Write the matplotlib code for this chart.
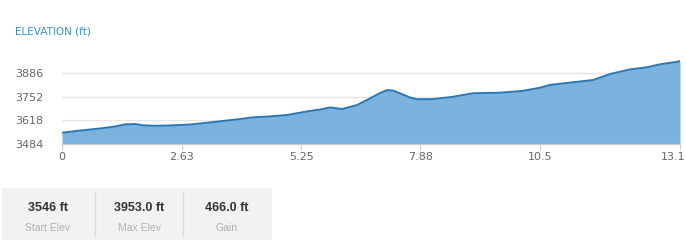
import matplotlib
matplotlib.use("Agg")
import matplotlib.pyplot as plt
from matplotlib.patches import Rectangle
from matplotlib.transforms import ScaledTranslation

# elevation profile (miles, feet)
dist = [0.00, 0.38, 0.81, 1.12, 1.34, 1.55, 1.70, 1.97, 2.29, 2.71, 3.14, 3.77,
        4.05, 4.41, 4.77, 5.19, 5.47, 5.68, 5.94, 6.25, 6.53, 6.74, 6.89, 7.02,
        7.16, 7.38, 7.53, 7.86, 8.29, 8.71, 9.28, 9.75, 10.13, 10.34, 10.83,
        11.26, 11.62, 12.04, 12.40, 12.68, 13.04, 13.10]
elev = [3548, 3560, 3572, 3583, 3595, 3597, 3590, 3587, 3589, 3594, 3606, 3625,
        3635, 3640, 3648, 3668, 3679, 3691, 3682, 3704, 3742, 3772, 3789, 3786,
        3771, 3747, 3737, 3738, 3751, 3771, 3774, 3784, 3802, 3818, 3833,
        3846, 3880, 3906, 3918, 3935, 3949, 3953]

y_ticks = [3484, 3618, 3752, 3886]
x_labels = ["0", "2.63", "5.25", "7.88", "10.5", "13.1"]
x_frac = [0, 0.194, 0.387, 0.58, 0.773, 1.0]  # label spots along the axis

stat_vals = ["3546 ft", "3953.0 ft", "466.0 ft"]
stat_names = ["Start Elev", "Max Elev", "Gain"]

W, H = 686, 240
fig = plt.figure(figsize=(W / 100, H / 100), dpi=100)
fig.patch.set_facecolor("white")

ax = fig.add_axes([62 / W, 1 - 144 / H, 618 / W, (144 - 48) / H])
ax.fill_between(dist, elev, 3484, color="#7bb3de", lw=0)
ax.plot(dist, elev, color="#2b77b3", lw=1.4, solid_capstyle="round")
ax.set_xlim(0, 13.1)
ax.set_ylim(3484, 4027)

ax.set_yticks(y_ticks)
ax.set_yticklabels([str(v) for v in y_ticks])
for v in y_ticks[1:]:
    ax.axhline(v, color="#e6e6e6", lw=1, zorder=0)
ax.set_xticks([f * 13.1 for f in x_frac])
ax.set_xticklabels(x_labels)
ax.tick_params(axis="y", length=0, pad=34, labelsize=8, labelcolor="#666666")
for lab in ax.get_yticklabels():
    lab.set_horizontalalignment("left")
ax.tick_params(axis="x", length=4, color="#cccccc", pad=2, labelsize=8,
               labelcolor="#666666")
# last label sits at the right edge, pull it in so it fits
last = ax.get_xticklabels()[-1]
last.set_horizontalalignment("right")
last.set_transform(last.get_transform() + ScaledTranslation(5 / 100, 0, fig.dpi_scale_trans))
for s in ["top", "right", "left"]:
    ax.spines[s].set_visible(False)
ax.spines["bottom"].set_color("#cccccc")
ax.set_facecolor("none")

fig.text(15 / W, 1 - 32 / H, "ELEVATION (ft)", fontsize=7.5, color="#3a8fc7",
         va="center", ha="left")

# stats strip
fig.patches.append(Rectangle((2 / W, 0), 270 / W, 52 / H, transform=fig.transFigure,
                             facecolor="#f2f2f2", edgecolor="none", zorder=0))
for xd in [95, 183]:
    fig.add_artist(plt.Line2D([xd / W, xd / W], [4 / H, 48 / H], color="#dddddd",
                              lw=1, transform=fig.transFigure))
centers = [48, 139, 227]
for cx, val, name in zip(centers, stat_vals, stat_names):
    fig.text(cx / W, 1 - 208 / H, val, fontsize=9, fontweight="bold",
             family="Liberation Sans", color="#333333", ha="center", va="center")
    fig.text(cx / W, 1 - 228 / H, name, fontsize=7.5, family="Liberation Sans",
             color="#b0b0b0", ha="center", va="center")

fig.savefig("out.png", dpi=100)
